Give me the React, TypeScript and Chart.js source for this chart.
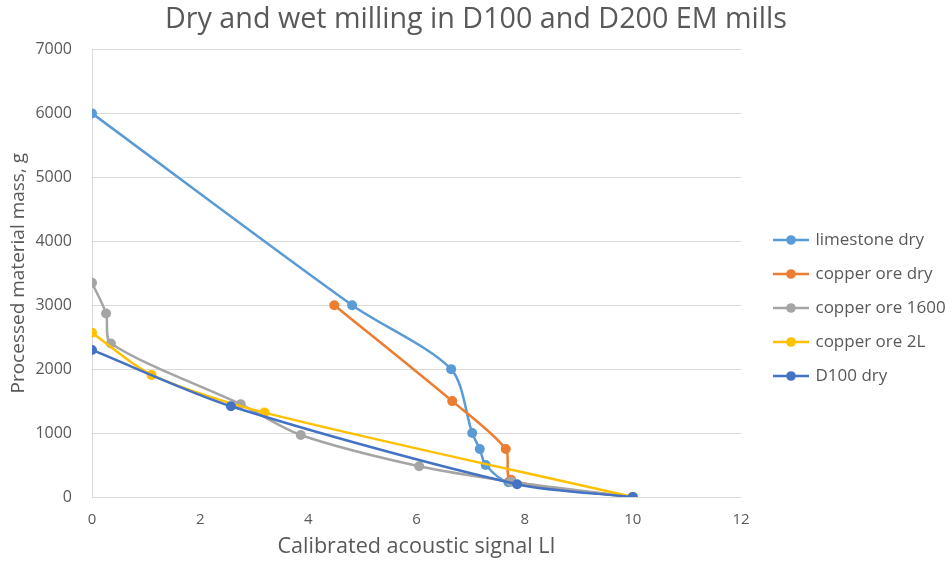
import React, { useEffect, useRef } from 'react';
import { Chart, registerables } from 'chart.js';

Chart.register(...registerables);

const chartTitle = 'Dry and wet milling in D100 and D200 EM mills';
const xAxisTitle = 'Calibrated acoustic signal LI';
const yAxisTitle = 'Processed material mass, g';

const seriesNames = ['limestone dry', 'copper ore dry', 'copper ore 1600', 'copper ore 2L', 'D100 dry'];
const seriesColors = ['#5B9BD5', '#ED7D31', '#A5A5A5', '#FFC000', '#4472C4'];

const limestoneX = [0, 4.81, 6.64, 7.03, 7.17, 7.28, 7.7, 10];
const limestoneY = [6000, 3000, 2000, 1000, 750, 500, 230, 0];
const copperDryX = [4.48, 6.66, 7.65, 7.75, 10];
const copperDryY = [3000, 1500, 750, 270, 0];
const copper1600X = [0, 0.26, 0.35, 2.75, 3.86, 6.05, 7.75, 10];
const copper1600Y = [3350, 2870, 2400, 1450, 970, 480, 240, 0];
const copper2LX = [0, 1.1, 3.19, 10];
const copper2LY = [2570, 1910, 1320, 0];
const d100X = [0, 2.57, 7.86, 10];
const d100Y = [2300, 1420, 200, 0];

const seriesX = [limestoneX, copperDryX, copper1600X, copper2LX, d100X];
const seriesY = [limestoneY, copperDryY, copper1600Y, copper2LY, d100Y];

const xTickValues = [0, 2, 4, 6, 8, 10, 12];
const yTickValues = [0, 1000, 2000, 3000, 4000, 5000, 6000, 7000];

const FONT = '"Open Sans", "Noto Sans", sans-serif';
const TEXT = '#595959';
const GRID = '#D9D9D9';

function makeLegendIcon(color: string): HTMLCanvasElement {
  const c = document.createElement('canvas');
  c.width = 36;
  c.height = 12;
  const g = c.getContext('2d')!;
  g.strokeStyle = color;
  g.lineWidth = 2.5;
  g.beginPath();
  g.moveTo(0, 6);
  g.lineTo(36, 6);
  g.stroke();
  g.fillStyle = color;
  g.beginPath();
  g.arc(18, 6, 4.8, 0, Math.PI * 2);
  g.fill();
  return c;
}

const LEGEND_WIDTH = 211;
const LEGEND_SHIFT_X = 17;
const LEGEND_SHIFT_Y = 25;

const legendPlacement = {
  id: 'legendPlacement',
  beforeLayout(chart: any) {
    const lg = chart.legend;
    if (lg && !lg.__patched) {
      const orig = lg.fit.bind(lg);
      lg.fit = function () {
        orig();
        this.width = LEGEND_WIDTH;
      };
      lg.__patched = true;
    }
  },
  afterLayout(chart: any) {
    const lg = chart.legend;
    if (lg) {
      lg.left += LEGEND_SHIFT_X;
      lg.right += LEGEND_SHIFT_X;
      lg.top += LEGEND_SHIFT_Y;
      lg.bottom += LEGEND_SHIFT_Y;
    }
  },
};

export default function App() {
  const ref = useRef<HTMLCanvasElement | null>(null);

  useEffect(() => {
    document.body.style.margin = '0';
    const canvas = ref.current;
    if (!canvas) return;
    const icons = seriesColors.map(makeLegendIcon);

    const datasets = seriesNames.map((name, i) => ({
      label: name,
      data: seriesX[i].map((x, j) => ({ x, y: seriesY[i][j] })),
      borderColor: seriesColors[i],
      backgroundColor: seriesColors[i],
      pointBackgroundColor: seriesColors[i],
      pointBorderColor: seriesColors[i],
      pointRadius: 5,
      pointBorderWidth: 0,
      borderWidth: 2.5,
      showLine: true,
      tension: 0.28,
      fill: false,
      order: seriesNames.length - i,
    }));

    const chart = new Chart(canvas, {
      type: 'scatter',
      data: { datasets },
      plugins: [legendPlacement],
      options: {
        animation: false,
        responsive: false,
        maintainAspectRatio: false,
        layout: { padding: 0 },
        plugins: {
          title: {
            display: true,
            text: chartTitle,
            color: TEXT,
            font: { family: FONT, size: 28.7, weight: 'normal' },
            padding: { top: 3, bottom: 12 },
          },
          legend: {
            position: 'right',
            labels: {
              usePointStyle: true,
              pointStyleWidth: 32,
              padding: 17,
              color: TEXT,
              font: { family: FONT, size: 17 },
              sort: (a: any, b: any) => a.datasetIndex - b.datasetIndex,
              generateLabels(ch: any) {
                const items = Chart.defaults.plugins.legend.labels.generateLabels(ch);
                items.forEach((it: any) => {
                  it.pointStyle = icons[it.datasetIndex];
                });
                return items;
              },
            },
          },
          tooltip: { enabled: false },
        },
        scales: {
          x: {
            type: 'linear',
            min: 0,
            max: 12,
            afterBuildTicks(scale: any) {
              scale.ticks = xTickValues.map((v) => ({ value: v }));
            },
            afterFit(scale: any) {
              scale.height = 69;
            },
            grid: { display: false, drawTicks: false },
            border: { display: false },
            ticks: { color: TEXT, font: { family: FONT, size: 15 }, padding: 14, maxRotation: 0, callback: (v: any) => String(v) },
            title: {
              display: true,
              text: xAxisTitle,
              color: TEXT,
              font: { family: FONT, size: 21.6 },
              padding: { top: 0, bottom: 6 },
            },
          },
          y: {
            type: 'linear',
            min: 0,
            max: 7000,
            afterBuildTicks(scale: any) {
              scale.ticks = yTickValues.map((v) => ({ value: v }));
            },
            afterFit(scale: any) {
              scale.width = 92;
            },
            grid: { color: GRID, lineWidth: 1, drawTicks: false },
            border: { display: true, color: GRID, width: 1 },
            ticks: { color: TEXT, font: { family: FONT, size: 16 }, padding: 20, callback: (v: any) => String(v) },
            title: {
              display: true,
              text: yAxisTitle,
              color: TEXT,
              font: { family: FONT, size: 19 },
              padding: { top: 7, bottom: 0 },
            },
          },
        },
      } as any,
    });
    return () => chart.destroy();
  }, []);

  return (
    <div style={{ width: 952, height: 566, position: 'relative' }}>
      <canvas ref={ref} width={952} height={566} style={{ display: 'block', width: 952, height: 566 }} />
    </div>
  );
}
